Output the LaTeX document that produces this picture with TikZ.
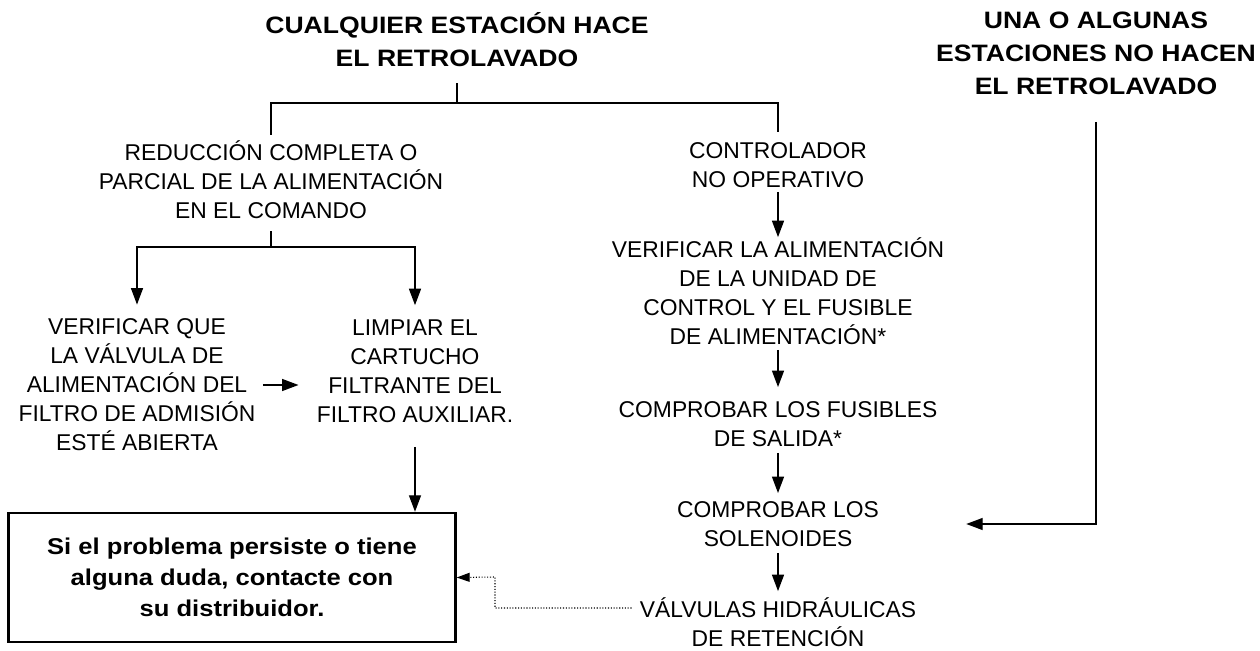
\documentclass[tikz,border=0pt]{standalone}
\usepackage{fontspec}
\setmainfont{Liberation Sans}
\newfontfamily\headfont[FakeStretch=1.12]{Liberation Sans}
\usetikzlibrary{arrows.meta,positioning,calc}

\tikzset{
  stepnode/.style={align=center, inner sep=0pt, font=\fontsize{13}{16.5}\selectfont},
  headnode/.style={align=center, inner sep=0pt, font=\headfont\bfseries\fontsize{13.5}{18.8}\selectfont},
  branch/.style={line width=0.8pt},
  flow/.style={line width=0.8pt, -{Triangle[length=3.3mm,width=2.4mm]}},
  hint/.style={line width=0.6pt, densely dotted, -{Triangle[length=2.6mm,width=1.8mm]}},
}

\begin{document}
\begin{tikzpicture}[x=0.02cm, y=-0.02cm]
    \useasboundingbox (0,0) rectangle (1260,651);
    % titles
    \node[headnode] (cualq) at (457,40) {CUALQUIER ESTACIÓN HACE\\EL RETROLAVADO};
    \node[headnode] (algunas) at (1096,53) {UNA O ALGUNAS\\ESTACIONES NO HACEN\\EL RETROLAVADO};
    % left column
    \node[stepnode] (reduc) at (271,180) {REDUCCIÓN COMPLETA O\\PARCIAL DE LA ALIMENTACIÓN\\EN EL COMANDO};
    \node[stepnode] (valvula) at (137,385) {VERIFICAR QUE\\LA VÁLVULA DE\\ALIMENTACIÓN DEL\\FILTRO DE ADMISIÓN\\ESTÉ ABIERTA};
    \node[stepnode] (limpiar) at (415,371) {LIMPIAR EL\\CARTUCHO\\FILTRANTE DEL\\FILTRO AUXILIAR.};
    \node[draw, line width=1.4pt, minimum width=8.94cm, minimum height=2.58cm, align=center,
          font=\headfont\bfseries\fontsize{13}{17.6}\selectfont] (contacte) at (232,577.5)
          {Si el problema persiste o tiene\\alguna duda, contacte con\\su distribuidor.};
    % right column
    \node[stepnode] (contr) at (778,165) {CONTROLADOR\\NO OPERATIVO};
    \node[stepnode] (alim) at (778,291) {VERIFICAR LA ALIMENTACIÓN\\DE LA UNIDAD DE\\CONTROL Y EL FUSIBLE\\DE ALIMENTACIÓN*};
    \node[stepnode] (fusib) at (778,424) {COMPROBAR LOS FUSIBLES\\DE SALIDA*};
    \node[stepnode] (solen) at (778,524) {COMPROBAR LOS\\SOLENOIDES};
    \node[stepnode] (hidra) at (778,622) {VÁLVULAS HIDRÁULICAS\\DE RETENCIÓN};

    \coordinate (fork1) at (457,103);
    \coordinate (fork2) at (271,247);
    \coordinate (bend) at (495,577);

    % connectors
    \draw[branch, shorten <=0.32cm] (cualq.south) -- (fork1);
    \draw[branch, shorten >=0.12cm] (fork1) -| (reduc.north);
    \draw[branch, shorten >=0.2cm] (fork1) -| (contr.north);
    \draw[branch, shorten <=0.24cm] (reduc.south) -- (fork2);
    \draw[flow, shorten >=0.28cm] (fork2) -| (valvula.north);
    \draw[flow, shorten >=0.28cm] (fork2) -| (limpiar.north);
    \draw[flow, shorten <=0.14cm, shorten >=0.36cm] (valvula.east) -- (valvula.east -| limpiar.west);
    \draw[flow, shorten <=0.48cm] (limpiar.south) -- (limpiar.south |- contacte.north);
    \draw[flow, shorten <=0.08cm] (contr.south) -- (alim.north);
    \draw[flow, shorten <=0.1cm, shorten >=0.28cm] (alim.south) -- (fusib.north);
    \draw[flow, shorten <=0.12cm, shorten >=0.16cm] (fusib.south) -- (solen.north);
    \draw[flow, shorten <=0.12cm, shorten >=0.12cm] (solen.south) -- (hidra.north);
    \draw[flow, shorten <=0.54cm, shorten >=1.74cm] (algunas.south) |- (solen.east);
    \draw[hint, shorten <=0.16cm] ([yshift=0.28cm]hidra.west) -| (bend) -- (contacte.east);
\end{tikzpicture}
\end{document}
